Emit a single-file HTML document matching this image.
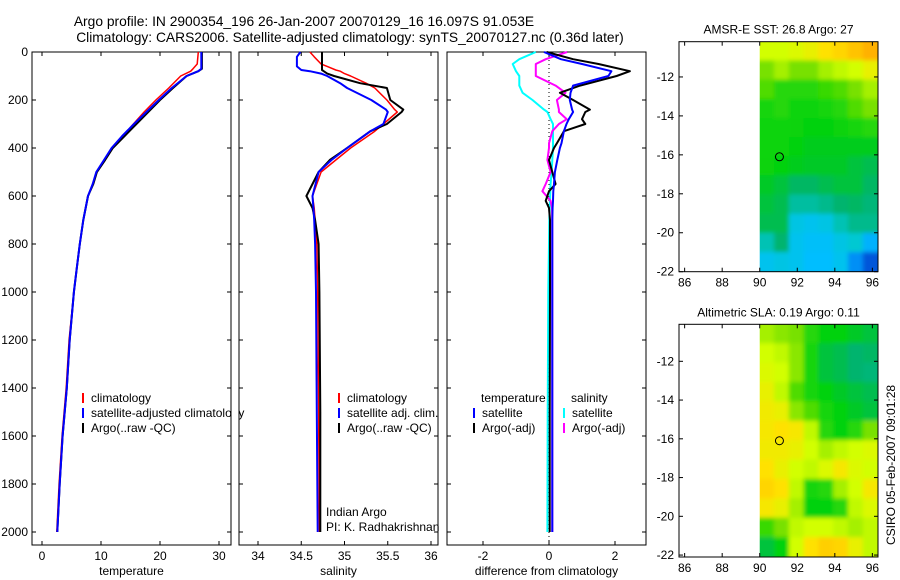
<!DOCTYPE html>
<html><head><meta charset="utf-8"><style>
body{margin:0;background:#fff;}
svg{display:block;font-family:"Liberation Sans",Arial,sans-serif;}
text{font-size:12px;fill:#000;}
</style></head><body>
<svg id="fig" width="900" height="580" viewBox="0 0 900 580">
<text x="304" y="26" text-anchor="middle" style="font-size:13.8px">Argo profile: IN 2900354_196 26-Jan-2007 20070129_16 16.097S 91.053E</text>
<text x="350" y="42" text-anchor="middle" style="font-size:13.8px">Climatology: CARS2006. Satellite-adjusted climatology: synTS_20070127.nc (0.36d later)</text>
<text transform="translate(895,465) rotate(-90)" text-anchor="middle">CSIRO 05-Feb-2007 09:01:28</text>
<g id="plots"></g>
</svg>
<script>
// ---------- data ----------
const tDepth=[0,50,70,80,100,150,200,250,300,350,400,450,500,550,600,700,800,900,1000,1200,1400,1600,1800,2000];
const tArgo=[27.1,27.1,27.1,26.5,24.5,22.2,20.0,18.0,16.0,14.0,12.0,10.7,9.3,8.7,7.8,7.0,6.4,5.9,5.4,4.7,4.2,3.5,3.0,2.6];
const tClim=[26.5,26.3,25.6,25.2,23.5,21.5,19.3,17.3,15.5,13.7,12.0,10.6,9.3,8.6,7.8,7.0,6.4,5.9,5.4,4.6,4.1,3.4,2.9,2.5];
const tSat=[27.0,27.0,27.0,26.5,24.5,22.0,19.8,17.7,15.6,13.6,11.8,10.5,9.2,8.6,7.8,7.0,6.4,5.9,5.4,4.7,4.2,3.5,3.0,2.6];

const sDepth=[0,20,50,60,75,80,90,100,130,150,200,240,250,300,330,400,450,500,600,650,700,800,1000,1500,2000];
const sArgo=[34.74,34.74,34.74,34.74,34.74,34.76,34.80,34.88,35.18,35.49,35.53,35.68,35.66,35.49,35.30,35.03,34.83,34.70,34.56,34.63,34.66,34.70,34.71,34.72,34.72];
const sClim=[34.60,34.65,34.73,34.80,34.90,34.95,35.00,35.07,35.25,35.35,35.49,35.58,35.61,35.45,35.35,35.07,34.90,34.73,34.63,34.65,34.66,34.68,34.69,34.70,34.71];
const sSat=[34.49,34.45,34.45,34.45,34.50,34.60,34.73,34.80,34.95,35.03,35.31,35.48,35.50,35.45,35.30,35.03,34.85,34.70,34.63,34.64,34.65,34.66,34.67,34.68,34.69];

const dDepth=[0,30,50,80,100,140,170,200,240,250,280,300,330,380,400,450,500,550,580,620,650,700,800,1000,1500,2000];
const dTempArgo=[-0.07,0.73,1.5,2.45,2.05,0.94,0.33,0.73,1.24,1.1,1.0,1.1,0.45,0.24,0.15,0.0,0.1,0.2,0.0,-0.1,0.0,0.03,0.03,0.03,0.02,0.02];
const dTempSat=[-0.15,0.36,1.0,1.89,1.8,0.73,0.65,0.63,0.7,0.73,0.6,0.53,0.45,0.38,0.33,0.25,0.18,0.15,0.13,0.12,0.11,0.1,0.1,0.1,0.1,0.1];
const dSalSat=[-0.4,-0.9,-1.1,-1.0,-0.9,-0.9,-0.8,-0.5,-0.15,-0.05,0.05,0.12,0.12,0.12,0.12,0.1,0.08,0.05,0.04,0.03,0.02,0.01,0.0,-0.02,-0.04,-0.05];
const dSalArgo=[0.55,-0.1,-0.4,-0.4,-0.4,0.2,0.5,0.24,0.3,0.3,0.54,0.3,0.1,0.0,0.0,-0.05,0.05,-0.1,-0.2,0.05,0.09,0.1,0.1,0.1,0.1,0.1];

const depthTicks=[0,200,400,600,800,1000,1200,1400,1600,1800,2000];
const tempTicks=[0,10,20,30];
const salTicks=[34,34.5,35,35.5,36];
const diffTicks=[-2,0,2];

const sstGrid=[
[0.8,0.8,0.82,0.85,0.9,0.92,0.95,0.98],
[0.7,0.75,0.7,0.7,0.75,0.78,0.8,0.85],
[0.65,0.6,0.6,0.6,0.62,0.65,0.7,0.75],
[0.58,0.6,0.57,0.57,0.58,0.6,0.65,0.7],
[0.57,0.57,0.56,0.55,0.55,0.56,0.58,0.6],
[0.57,0.57,0.55,0.53,0.53,0.53,0.53,0.53],
[0.56,0.55,0.53,0.52,0.52,0.52,0.5,0.48],
[0.52,0.5,0.46,0.46,0.48,0.5,0.5,0.46],
[0.5,0.48,0.4,0.4,0.42,0.45,0.46,0.44],
[0.48,0.48,0.32,0.3,0.32,0.38,0.42,0.42],
[0.38,0.45,0.3,0.28,0.28,0.32,0.35,0.25],
[0.3,0.32,0.3,0.27,0.27,0.3,0.2,0.1]];
const slaGrid=[
[0.75,0.72,0.7,0.6,0.55,0.55,0.52,0.5],
[0.8,0.78,0.72,0.58,0.5,0.48,0.45,0.46],
[0.82,0.8,0.72,0.58,0.5,0.48,0.45,0.44],
[0.85,0.78,0.65,0.58,0.55,0.52,0.5,0.48],
[0.87,0.85,0.72,0.65,0.58,0.55,0.52,0.5],
[0.88,0.9,0.88,0.78,0.6,0.55,0.6,0.7],
[0.87,0.87,0.85,0.8,0.75,0.78,0.8,0.82],
[0.9,0.85,0.8,0.78,0.82,0.88,0.82,0.8],
[0.92,0.9,0.78,0.58,0.6,0.75,0.8,0.88],
[0.88,0.85,0.75,0.55,0.55,0.6,0.78,0.82],
[0.62,0.7,0.78,0.8,0.8,0.78,0.75,0.78],
[0.5,0.55,0.8,0.9,0.93,0.92,0.85,0.78]];
const lonTicks=[86,88,90,92,94,96];
const latTicks=[-12,-14,-16,-18,-20,-22];
const floatLon=91.05, floatLat=-16.1;

// ---------- helpers ----------
const NS='http://www.w3.org/2000/svg';
const root=document.getElementById('plots');
function mk(tag,attrs,parent){const e=document.createElementNS(NS,tag);for(const k in attrs)e.setAttribute(k,attrs[k]);(parent||root).appendChild(e);return e;}
function lin(d0,d1,r0,r1){return v=>r0+(v-d0)*(r1-r0)/(d1-d0);}
const yD=lin(0,2000,52,532);
const TOP=52,BOT=545;

function panel(x0,x1,xs,ticks,label,name,showY){
  const g=mk('g',{});
  
  
  const r=mk('rect',{x:x0,y:TOP,width:x1-x0,height:BOT-TOP,fill:'none',stroke:'#000','stroke-width':1},g);
  
  
  ticks.forEach(t=>{const x=xs(t);
    mk('line',{x1:x,x2:x,y1:TOP,y2:TOP+4,stroke:'#000'},g);
    mk('line',{x1:x,x2:x,y1:BOT,y2:BOT-4,stroke:'#000'},g);
    const tx=mk('text',{x:x,y:BOT+15,'text-anchor':'middle'},g);tx.textContent=String(t);
    
    
  });
  depthTicks.forEach(d=>{const y=yD(d);
    mk('line',{x1:x0,x2:x0+4,y1:y,y2:y,stroke:'#000'},g);
    mk('line',{x1:x1,x2:x1-4,y1:y,y2:y,stroke:'#000'},g);
    if(showY){const tx=mk('text',{x:x0-4,y:y+4,'text-anchor':'end'},g);tx.textContent=String(d);
      
      }
  });
  const xl=mk('text',{x:(x0+x1)/2,y:575,'text-anchor':'middle'},g);xl.textContent=label;
  
  
  return g;
}
function series(g,depths,vals,xs,color,w,name){
  const pts=depths.map((d,i)=>xs(vals[i]).toFixed(1)+','+yD(d).toFixed(1)).join(' ');
  const p=mk('polyline',{points:pts,fill:'none',stroke:color,'stroke-width':w,'stroke-linejoin':'round'},g);
  
  
}
function legend(g,x,y,color,txt,name){
  mk('line',{x1:x,x2:x,y1:y-9,y2:y+1,stroke:color,'stroke-width':2},g);
  const t=mk('text',{x:x+8,y:y},g);t.textContent=txt;
  
  
}

// temperature panel
const xT=lin(0,30,42,219);
const gT=panel(32,231,xT,tempTicks,'temperature','temperature-panel',true);
series(gT,tDepth,tClim,xT,'#f00',1.5,'temp-climatology-line');
series(gT,tDepth,tArgo,xT,'#000',2,'temp-argo-line');
series(gT,tDepth,tSat,xT,'#00f',2,'temp-satellite-line');
legend(gT,83,402,'#f00','climatology','legend-climatology');
legend(gT,83,417,'#00f','satellite-adjusted climatology','legend-satellite');
legend(gT,83,432,'#000','Argo(..raw -QC)','legend-argo');
mk('rect',{x:232,y:380,width:6,height:60,fill:'#fff'});

// salinity panel
const xS=lin(34,36,258,431);
const gS=panel(239,438,xS,salTicks,'salinity','salinity-panel',false);
series(gS,sDepth,sClim,xS,'#f00',1.5,'sal-climatology-line');
series(gS,sDepth,sArgo,xS,'#000',2,'sal-argo-line');
series(gS,sDepth,sSat,xS,'#00f',2,'sal-satellite-line');
legend(gS,339,402,'#f00','climatology','legend-sal-climatology');
legend(gS,339,417,'#00f','satellite adj. clim.','legend-sal-satellite');
legend(gS,339,432,'#000','Argo(..raw -QC)','legend-sal-argo');
let t1=mk('text',{x:326,y:516},gS);t1.textContent='Indian Argo';


let t2=mk('text',{x:326,y:531},gS);t2.textContent='PI: K. Radhakrishnan';



// difference panel
const xF=lin(-2,2,483,615);
const gF=panel(447,646,xF,diffTicks,'difference from climatology','difference-panel',false);
mk('line',{x1:xF(0),x2:xF(0),y1:TOP,y2:BOT,stroke:'#000','stroke-dasharray':'1,3'},gF);
series(gF,dDepth,dSalSat,xF,'#0ff',2,'sal-diff-satellite-line');
series(gF,dDepth,dSalArgo,xF,'#f0f',2,'sal-diff-argo-line');
series(gF,dDepth,dTempArgo,xF,'#000',2,'temp-diff-argo-line');
series(gF,dDepth,dTempSat,xF,'#00f',2,'temp-diff-satellite-line');
let lt=mk('text',{x:481,y:402},gF);lt.textContent='temperature';


let ls=mk('text',{x:571,y:402},gF);ls.textContent='salinity';


legend(gF,474,417,'#00f','satellite','legend-temp-satellite');
legend(gF,474,432,'#000','Argo(-adj)','legend-temp-argo');
legend(gF,564,417,'#0ff','satellite','legend-sal-sat');
legend(gF,564,432,'#f0f','Argo(-adj)','legend-sal-argo-adj');

// maps
const cmapStops=[[0,[0,40,170]],[0.15,[0,110,240]],[0.27,[0,190,255]],[0.35,[0,200,210]],[0.45,[0,180,110]],[0.55,[0,210,10]],[0.7,[120,225,0]],[0.8,[210,255,0]],[0.9,[255,225,0]],[1,[255,165,0]]];
function cmap(v){for(let i=1;i<cmapStops.length;i++){if(v<=cmapStops[i][0]){const a=cmapStops[i-1],b=cmapStops[i],f=(v-a[0])/(b[0]-a[0]);const c=a[1].map((x,k)=>Math.round(x+(b[1][k]-x)*f));return `rgb(${c})`;}}return 'rgb(255,165,0)';}
function map(top,bot,latTop,latBot,grid,title,name,id){
  const x0=679,x1=878,lonL=85.7,lonR=96.3;
  const xs=lin(lonL,lonR,x0,x1), ys=lin(latTop,latBot,top,bot);
  const g=mk('g',{});
  
  
  const nr=grid.length,nc=grid[0].length;
  const lonStep=(lonR-90)/nc, latStep=(latTop-latBot)/nr;
  const f=mk('filter',{id:id,x:'-5%',y:'-5%',width:'110%',height:'110%'},g);
  mk('feGaussianBlur',{stdDeviation:'2',edgeMode:'duplicate'},f);
  const clip=mk('clipPath',{id:id+'c'},g);mk('rect',{x:xs(90),y:top,width:x1-xs(90),height:bot-top},clip);
  const outer=mk('g',{'clip-path':'url(#'+id+'c)'},g);
  const cg=mk('g',{filter:'url(#'+id+')'},outer);
  grid.forEach((row,r)=>row.forEach((v,c)=>{
    let cx0=xs(90+c*lonStep),cx1=xs(90+(c+1)*lonStep),cy0=ys(latTop-r*latStep),cy1=ys(latTop-(r+1)*latStep);
    if(c==0)cx0-=6; if(c==nc-1)cx1+=6; if(r==0)cy0-=6; if(r==nr-1)cy1+=6;
    const e=mk('rect',{x:cx0-0.5,y:cy0-0.5,width:cx1-cx0+1,height:cy1-cy0+1,fill:cmap(v)},cg);
    
    
  }));
  const fr=mk('rect',{x:x0,y:top,width:x1-x0,height:bot-top,fill:'none',stroke:'#000'},g);
  
  
  lonTicks.forEach(l=>{const x=xs(l);mk('line',{x1:x,x2:x,y1:top,y2:top+4,stroke:'#000'},g);mk('line',{x1:x,x2:x,y1:bot,y2:bot-4,stroke:'#000'},g);
    const t=mk('text',{x:x,y:bot+15,'text-anchor':'middle'},g);t.textContent=String(l);
    
    });
  latTicks.forEach(l=>{const y=ys(l);mk('line',{x1:x0,x2:x0+4,y1:y,y2:y,stroke:'#000'},g);mk('line',{x1:x1,x2:x1-4,y1:y,y2:y,stroke:'#000'},g);
    const t=mk('text',{x:x0-5,y:y+4,'text-anchor':'end'},g);t.textContent=String(l);
    
    });
  const c=mk('circle',{cx:xs(floatLon),cy:ys(floatLat),r:4,fill:'none',stroke:'#000'},g);
  
  
  const tt=mk('text',{x:(x0+x1)/2,y:top-8,'text-anchor':'middle'},g);tt.textContent=title;
  
  
}
map(41.7,271.7,-10.19,-22,sstGrid,'AMSR-E SST: 26.8 Argo: 27','sst-map','b1');
map(324.3,557,-10.09,-22.1,slaGrid,'Altimetric SLA: 0.19 Argo: 0.11','sla-map','b2');
</script>
</body></html>
